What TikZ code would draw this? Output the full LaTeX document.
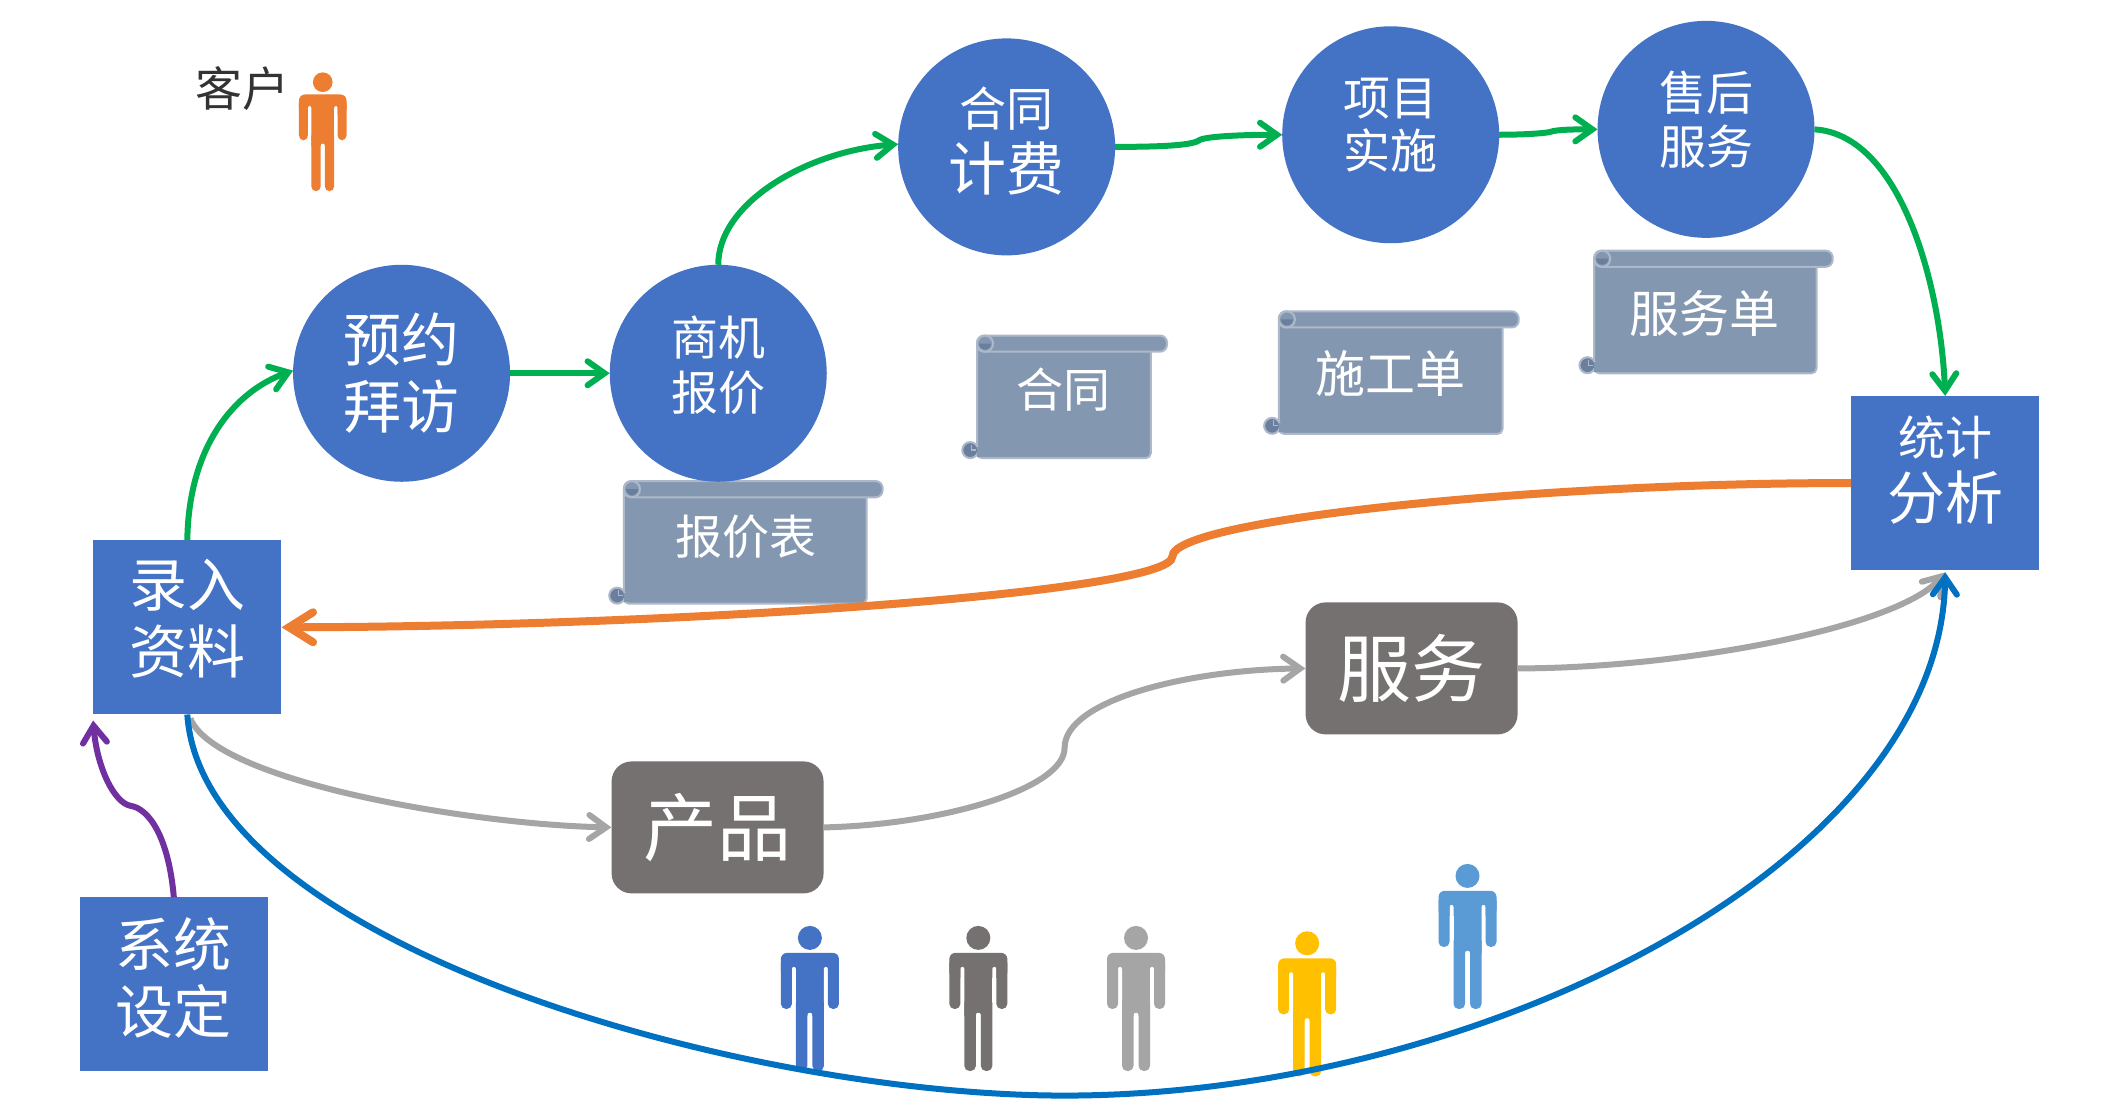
\documentclass[tikz,border=0pt]{standalone}
\usepackage{fontspec}
\setmainfont{Noto Sans CJK SC}
\usetikzlibrary{arrows.meta,calc}
\definecolor{cblue}{HTML}{4472C4}
\definecolor{cgray}{HTML}{767171}
\definecolor{clgray}{HTML}{A5A5A5}
\definecolor{cgreen}{HTML}{00B050}
\definecolor{corange}{HTML}{ED7D31}
\definecolor{cdblue}{HTML}{0070C0}
\definecolor{cpurple}{HTML}{7030A0}
\definecolor{cyellow}{HTML}{FFC000}
\definecolor{clblue}{HTML}{5B9BD5}
\definecolor{cscroll}{HTML}{8497B0}
\definecolor{cscrolld}{HTML}{6A7F9E}
\definecolor{cscrolle}{HTML}{ADB9CA}
\newcommand{\fsz}[2]{\fontsize{#1}{#2}\selectfont}
\newsavebox{\mtextbox}
\newcommand{\mtext}[2]{\setbox\mtextbox=\hbox{\parbox{130pt}{\centering #2}}\ht\mtextbox=0pt\dp\mtextbox=0pt\raise#1pt\box\mtextbox}
\tikzset{
  x=1.3476pt,y=-1.3476pt,
  roundnode/.style={circle,fill=cblue,text=white,minimum size=217pt,inner sep=0pt,outer sep=0pt},
  squarenode/.style={rectangle,fill=cblue,text=white,minimum width=188pt,minimum height=174pt,inner sep=0pt},
  graynode/.style={rectangle,rounded corners=20pt,fill=cgray,text=white,minimum width=212pt,minimum height=132pt,inner sep=0pt,font=\fsz{74}{80}},
  scrolltext/.style={text=white,inner sep=0pt},
  flow/.style={line width=6pt,-{Straight Barb[length=17pt,width=24pt,line width=6pt,line cap=round,line join=miter]}},
  greenflow/.style={flow,draw=cgreen},
  grayflow/.style={flow,draw=clgray},
  scrollpart/.style={fill=cscroll,draw=cscrolle,line width=2pt},
  person/.pic={
    \path[pic actions,x=1pt,y=-1pt] (0,0) circle (12pt);
    \path[pic actions,x=1pt,y=-1pt,rounded corners=6pt] (-29,15) rectangle (29,40);
    \path[pic actions,x=1pt,y=-1pt,draw=none] (-14,20) rectangle (14,78);
    \fill[white,x=1pt,y=-1pt,rounded corners=2pt] (-18,29) rectangle (-14,90);
    \fill[white,x=1pt,y=-1pt,rounded corners=2pt] (14,29) rectangle (18,90);
    \fill[white,x=1pt,y=-1pt,rounded corners=2pt] (-2.5,75) rectangle (2.5,140);
    \path[pic actions,x=1pt,y=-1pt,rounded corners=5pt] (-14,60) rectangle (-2.5,133);
    \path[pic actions,x=1pt,y=-1pt,rounded corners=5pt] (2.5,60) rectangle (14,133);
    \path[pic actions,x=1pt,y=-1pt,rounded corners=5pt] (-29,20) rectangle (-18,71);
    \path[pic actions,x=1pt,y=-1pt,rounded corners=5pt] (18,20) rectangle (29,71);
  }
}
\newcommand{\scrollbox}[4]{%
  \begin{scope}[shift={(#1,#2)}]
    \path[scrollpart,rounded corners=5pt] (11,4) rectangle (#3-12,#4);
    \path[fill=cscrolld,draw=cscrolle,line width=2pt] (6,#4-6) circle (8pt);
    \path[fill=cscroll] (11,#4-8) rectangle (15,#4-1.2);
    \draw[cscrolle,line width=1.2pt] (7,#4-10) -- (7,#4-6) -- (10,#4-6);
    \path[scrollpart,rounded corners=7pt] (11,0) rectangle (#3,12);
    \path[fill=cscroll,draw=cscrolle,line width=2pt] (17,6) circle (8pt);
    \path[fill=cscrolld] (17,6) ++(-6pt,0pt) arc[start angle=180,end angle=360,radius=6pt] -- cycle;
  \end{scope}}
\begin{document}
\begin{tikzpicture}
\useasboundingbox[fill=white] (0,0) rectangle (1568,826.7);
% persons
\pic[fill=corange,scale=.82] at (239.5,61) {person};
\pic[fill=cblue] at (601,696) {person};
\pic[fill=cgray] at (726,696) {person};
\pic[fill=clgray] at (843,696) {person};
\pic[fill=cyellow] at (970,700) {person};
\pic[fill=clblue] at (1089,650) {person};
% scrolls
\scrollbox{452}{357}{203}{91}
\scrollbox{714}{249}{152}{91}
\scrollbox{938}{231}{189}{91}
\scrollbox{1172}{186}{188}{91}
\node[scrolltext,font=\fsz{47}{54}] (t1) at (553.5,398) {报价表};
\node[scrolltext,font=\fsz{47}{54}] (t2) at (789,289) {合同};
\node[scrolltext,font=\fsz{50}{58}] (t3) at (1032,277) {施工单};
\node[scrolltext,font=\fsz{50}{58}] (t4) at (1265,233) {服务单};
% main nodes
\node[roundnode] (yy) at (298,277) {\mtext{-5}{\fsz{58}{67}预约\par 拜访\par}};
\node[roundnode] (sj) at (533,277) {\mtext{12}{\fsz{47}{55}商机\par 报价\par}};
\node[roundnode] (ht) at (747,109) {\mtext{6}{{\fsz{47}{62}合同\par}{\fsz{58}{64}计费\par}}};
\node[roundnode] (xm) at (1032,100) {\mtext{13.5}{\fsz{47}{53}项目\par 实施\par}};
\node[roundnode] (sh) at (1266,96) {\mtext{14}{\fsz{47}{54}售后\par 服务\par}};
\node[squarenode] (lr) at (139,465.5) {\mtext{12}{\fsz{58}{67}录入\par 资料\par}};
\node[squarenode] (xt) at (129,730.5) {\mtext{8}{\fsz{58}{67}系统\par 设定\par}};
\node[squarenode] (tj) at (1443.5,358.5) {\mtext{21}{{\fsz{47}{62}统计\par}{\fsz{58}{64}分析\par}}};
\node[graynode] (cp) at (532.5,614) {产品};
\node[graynode] (fw) at (1047.5,496) {服务};
\node[text=black!80,inner sep=0pt,font=\fsz{47}{50}] (kh) at (180,66) {客户};
% connectors
\draw[greenflow] (lr.north) .. controls (140,330) and (175,290) .. (yy.west |- 0,275);
\draw[greenflow] (yy.east) -- (sj.west);
\draw[greenflow] (sj.north) .. controls (533,150) and (600,112) .. (ht.west |- 0,107);
\draw[greenflow] (ht.east) .. controls (860,109) and (885,108) .. (890,104) .. controls (895,101) and (925,100) .. (xm.west);
\draw[greenflow] (xm.east) .. controls (1130,100) and (1145,99) .. (1150,98) .. controls (1155,96) and (1170,96) .. (sh.west);
\draw[greenflow] (sh.east) .. controls (1410,100) and (1440,210) .. (tj.north);
\draw[draw=corange,line width=8pt,-{Straight Barb[length=24pt,width=30pt,line width=8pt,line cap=round,line join=miter]}] (tj.west) .. controls (1150,358) and (870,385) .. (870,413) .. controls (870,440) and (500,465) .. (lr.east);
\draw[grayflow] ([xshift=3pt,yshift=-4pt]lr.south) .. controls (160,580) and (350,612) .. (cp.west);
\draw[grayflow] (cp.east) .. controls (700,612) and (790,585) .. (790,555) .. controls (790,520) and (880,497) .. (fw.west);
\draw[grayflow] (fw.east) .. controls (1250,496) and (1410,465) .. ([yshift=-2pt]tj.south);
\draw[flow,draw=cdblue] (lr.south) .. controls (150,700) and (550,813) .. (790,813) .. controls (1100,813) and (1440,640) .. ([yshift=-2pt]tj.south);
\draw[flow,draw=cpurple] (xt.north) .. controls (125,620) and (110,600) .. (97,598) .. controls (85,596) and (72,570) .. ([yshift=-6pt]lr.south west);
\end{tikzpicture}
\end{document}
